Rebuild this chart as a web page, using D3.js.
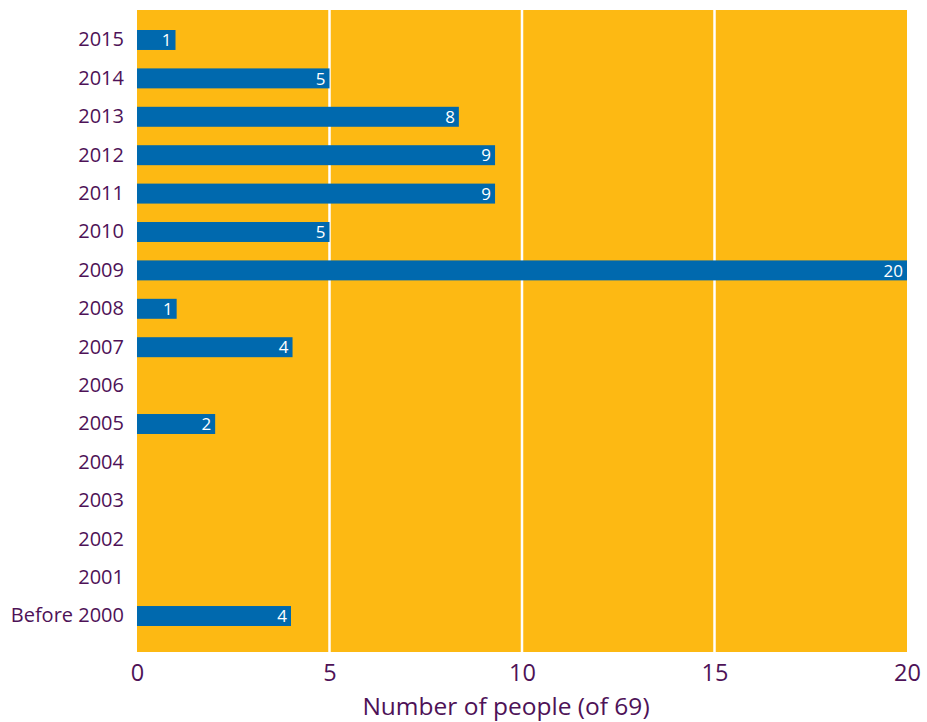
<!DOCTYPE html>
<html>
<head>
<meta charset="utf-8">
<script src="https://cdn.jsdelivr.net/npm/d3@7"></script>
<style>
  body { margin: 0; background: #fff; }
  text { font-family: "Open Sans", sans-serif; }
</style>
</head>
<body>
<svg id="chart" width="927" height="722"></svg>
<script>
const categories = ["2015","2014","2013","2012","2011","2010","2009","2008","2007","2006","2005","2004","2003","2002","2001","Before 2000"];
const values = [1, 5, 8.36, 9.3, 9.3, 5, 20, 1.03, 4.04, 0, 2.03, 0, 0, 0, 0, 4];
const labels = ["1","5","8","9","9","5","20","1","4","","2","","","","","4"];
const xTicks = [0, 5, 10, 15, 20];
const xTitle = "Number of people (of 69)";

const svg = d3.select("#chart");
const purple = "#4e1257";
const orange = "#FDB913";
const blue = "#0069AE";

const x = d3.scaleLinear().domain([0, 20]).range([137, 907]);
const y = d3.scaleBand().domain(categories).range([30, 626]).paddingInner(0.48).paddingOuter(0);

// plot background
svg.append("rect").attr("x", x(0)).attr("y", 10).attr("width", x(20) - x(0)).attr("height", 642).attr("fill", orange);

// gridlines
svg.selectAll("line.grid").data(xTicks.filter(d => d > 0 && d < 20)).enter().append("line")
  .attr("class", "grid")
  .attr("x1", d => x(d)).attr("x2", d => x(d))
  .attr("y1", 10).attr("y2", 652)
  .attr("stroke", "#fff").attr("stroke-width", 2.5);

// bars
svg.selectAll("rect.bar").data(categories).enter().append("rect")
  .attr("class", "bar")
  .attr("x", x(0))
  .attr("y", d => y(d))
  .attr("width", (d, i) => x(values[i]) - x(0))
  .attr("height", y.bandwidth())
  .attr("fill", blue);

// bar labels
svg.selectAll("text.val").data(categories).enter().append("text")
  .attr("class", "val")
  .attr("x", (d, i) => x(values[i]) - 4)
  .attr("y", d => y(d) + y.bandwidth() / 2)
  .attr("dy", "0.36em")
  .attr("text-anchor", "end")
  .attr("fill", "#fff")
  .attr("font-size", 17)
  .text((d, i) => labels[i]);

// y axis labels
const yAxis = d3.axisLeft(y).tickSize(0).tickPadding(13);
const yg = svg.append("g").attr("transform", `translate(${x(0)},0)`).call(yAxis);
yg.select(".domain").remove();
yg.selectAll("text").attr("fill", purple).attr("font-size", 20).style("font-family", "'Open Sans', sans-serif");

// x axis
const xAxis = d3.axisBottom(x).tickValues(xTicks).tickSize(0).tickPadding(12);
const xg = svg.append("g").attr("transform", `translate(0,652)`).call(xAxis);
xg.select(".domain").remove();
xg.selectAll("text").attr("fill", purple).attr("font-size", 23.5).style("font-family", "'Open Sans', sans-serif");

svg.append("text")
  .attr("x", 506).attr("y", 715)
  .attr("text-anchor", "middle")
  .attr("fill", purple)
  .attr("font-size", 24.5)
  .text(xTitle);
</script>
</body>
</html>
